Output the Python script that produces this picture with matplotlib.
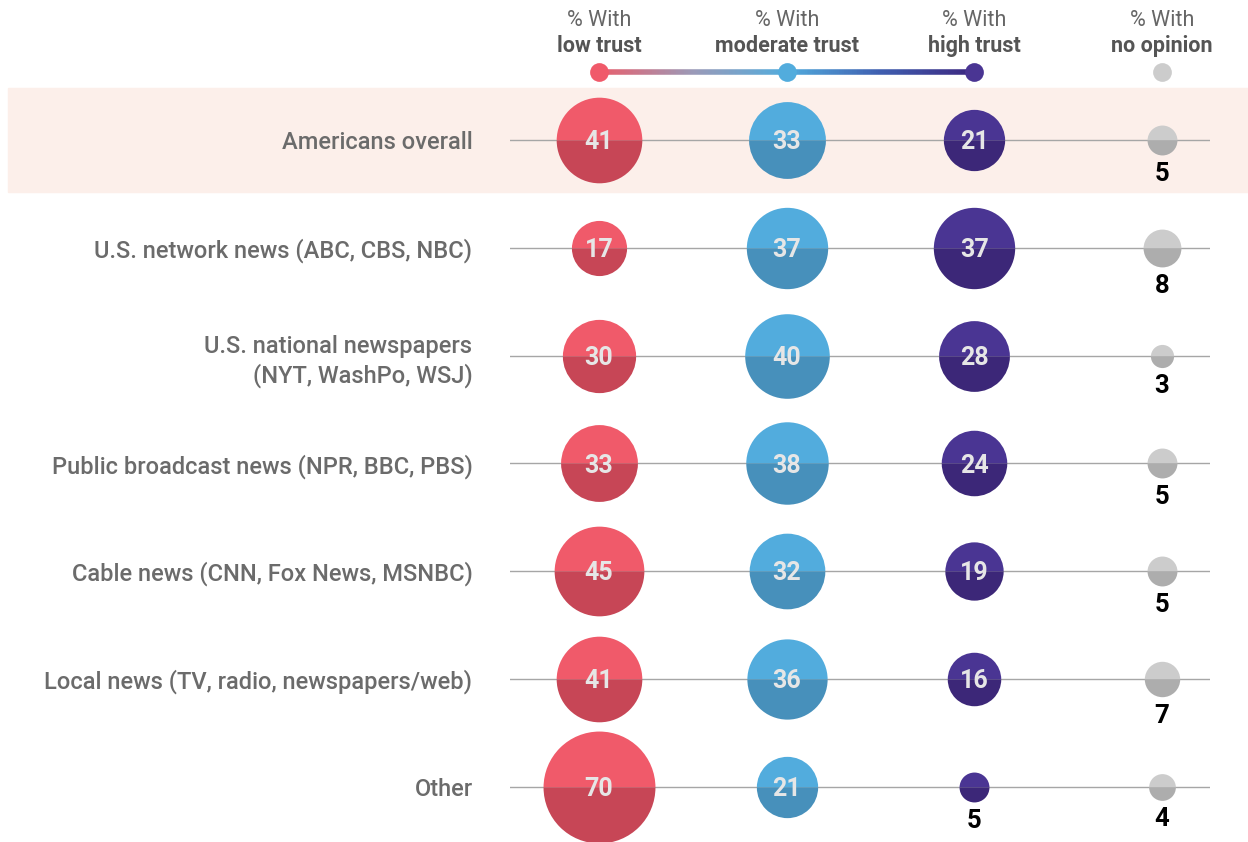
import matplotlib.pyplot as plt
import numpy as np
from matplotlib.patches import Rectangle
from matplotlib.collections import LineCollection
from matplotlib.colors import LinearSegmentedColormap

# Data
ROWS = [
    "Americans overall",
    "U.S. network news (ABC, CBS, NBC)",
    "U.S. national newspapers\n(NYT, WashPo, WSJ)",
    "Public broadcast news (NPR, BBC, PBS)",
    "Cable news (CNN, Fox News, MSNBC)",
    "Local news (TV, radio, newspapers/web)",
    "Other",
]
LOW = [41, 17, 30, 33, 45, 41, 70]
MODERATE = [33, 37, 40, 38, 32, 36, 21]
HIGH = [21, 37, 28, 24, 19, 16, 5]
NO_OPINION = [5, 8, 3, 5, 5, 7, 4]
HEADERS = ["low trust", "moderate trust", "high trust", "no opinion"]

# Style
TOP_COLORS = ["#f05a6a", "#52acdd", "#4a3593", "#cccccc"]
BOTTOM_COLORS = ["#c74656", "#4790bb", "#3c2778", "#adadad"]
LABEL_GRAY = "#6b6b6b"
FONT = ["Roboto", "DejaVu Sans"]
DPI = 100
W, H = 1248, 842
ROW_STEP = 107.83  # px between rows
COL_STEP = 187.7  # px between columns
SIZE_K = 9.63  # marker diameter (pt) per sqrt(value)

plt.rcParams["font.family"] = FONT

fig = plt.figure(figsize=(W / DPI, H / DPI), dpi=DPI)
# axes from x=510..1210 px, full height
ax = fig.add_axes([510 / W, 0, 700 / W, 1])
ax.set_facecolor("none")
x0 = (599 - 510) / COL_STEP
ax.set_xlim(-x0, 700 / COL_STEP - x0)
ax.set_ylim((H - 140) / ROW_STEP, -140 / ROW_STEP)
for s in ax.spines.values():
    s.set_visible(False)
ax.set_xticks([])

# highlight band for the first row
fig.patches.append(
    Rectangle((8 / W, 1 - 192 / H), 1 - 8 / W, 104 / H,
              transform=fig.transFigure, color="#fcefea", zorder=-1)
)

# row labels as y tick labels
ax.set_yticks(range(len(ROWS)))
ax.set_yticklabels(ROWS, fontsize=17, color=LABEL_GRAY, fontweight="medium",
                   linespacing=1.3)
ax.tick_params(axis="y", length=0, pad=27)
for t in ax.get_yticklabels():
    t.set_multialignment("right")

for i in range(len(ROWS)):
    ax.axhline(i, color="#a6a6a6", lw=1, zorder=1)

series = [LOW, MODERATE, HIGH, NO_OPINION]
for j, vals in enumerate(series):
    for i, v in enumerate(vals):
        ms = SIZE_K * np.sqrt(v)
        ax.plot(j, i, "o", ms=ms, fillstyle="top",
                markerfacecolor=TOP_COLORS[j],
                markerfacecoloralt=BOTTOM_COLORS[j],
                markeredgewidth=0, zorder=3)
        if j < 3 and v >= 10:
            ax.text(j, i + 0.02, str(v), ha="center", va="center",
                    fontsize=18, fontweight="bold", color="#e6e6e6", zorder=4)
        else:
            r_px = ms * DPI / 72 / 2
            ax.text(j, i + (r_px + 7) / ROW_STEP, str(v), ha="center",
                    va="top", fontsize=18.5, fontweight="bold", color="black",
                    zorder=4)

# header
for j, h in enumerate(HEADERS):
    ax.text(j, -119 / ROW_STEP, "% With", ha="center", va="center",
            fontsize=15.5, color="#666666", clip_on=False)
    ax.text(j, -94 / ROW_STEP, h, ha="center", va="center", fontsize=15.5,
            fontweight="bold", color="#555555", clip_on=False)

# legend gradient line
y_leg = -68 / ROW_STEP
cmap = LinearSegmentedColormap.from_list(
    "trust", ["#e8606e", "#9a9ab8", "#52acdd", "#3f5fb0", "#3c2780"])
xs = np.linspace(0, 2, 200)
segs = [[(xs[k], y_leg), (xs[k + 1], y_leg)] for k in range(len(xs) - 1)]
lc = LineCollection(segs, colors=cmap(np.linspace(0, 1, len(segs))),
                    linewidths=4, clip_on=False, zorder=2)
ax.add_collection(lc)
for j in range(4):
    ax.plot(j, y_leg, "o", ms=13.5, color=TOP_COLORS[j], markeredgewidth=0,
            clip_on=False, zorder=3)

fig.savefig("out.png", dpi=DPI)
